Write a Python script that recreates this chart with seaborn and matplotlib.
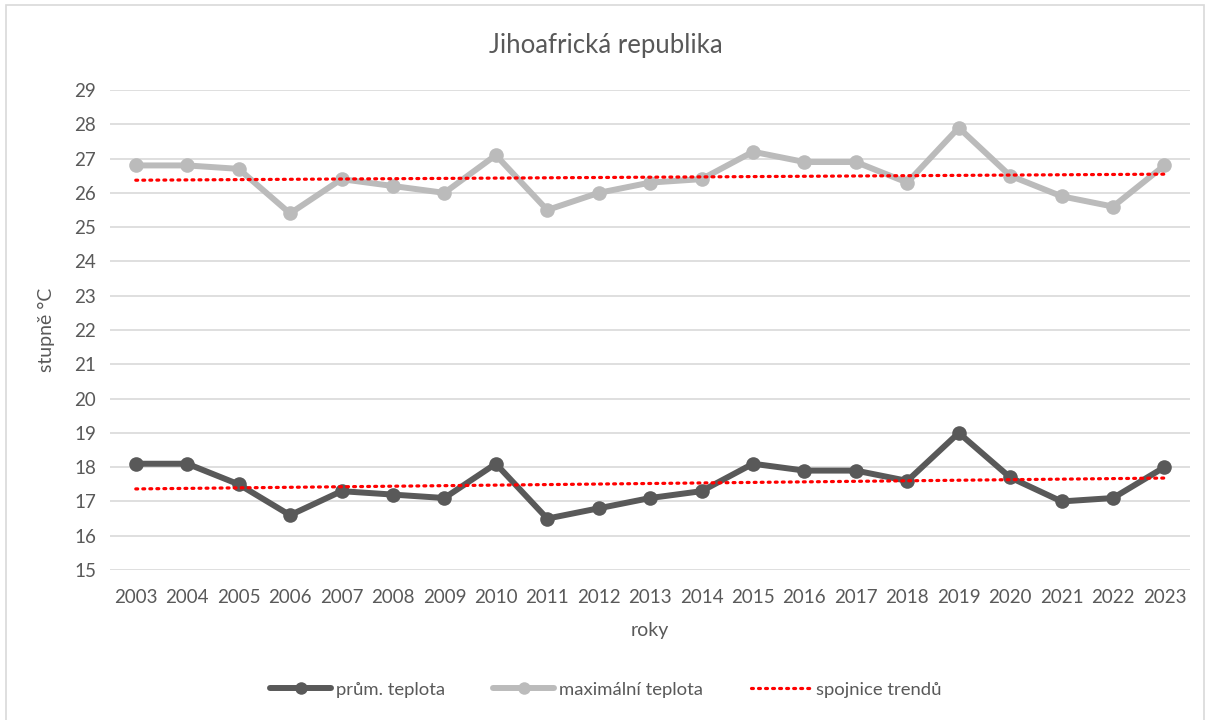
import numpy as np
import pandas as pd
import matplotlib
matplotlib.use("Agg")
import matplotlib.pyplot as plt
import seaborn as sns
from matplotlib.lines import Line2D
from matplotlib.patches import Rectangle

years = [str(y) for y in range(2003, 2024)]
avg_temp = [18.1, 18.1, 17.5, 16.6, 17.3, 17.2, 17.1, 18.1, 16.5, 16.8, 17.1,
            17.3, 18.1, 17.9, 17.9, 17.6, 19.0, 17.7, 17.0, 17.1, 18.0]
max_temp = [26.8, 26.8, 26.7, 25.4, 26.4, 26.2, 26.0, 27.1, 25.5, 26.0, 26.3,
            26.4, 27.2, 26.9, 26.9, 26.3, 27.9, 26.5, 25.9, 25.6, 26.8]
series_names = ["prům. teplota", "maximální teplota", "spojnice trendů"]
title = "Jihoafrická republika"
xlabel = "roky"
ylabel = "stupně °C"
yticks = list(range(15, 30))

sns.set_theme(style="white")
plt.rcParams['font.family'] = ['Lato', 'DejaVu Sans']

fig = plt.figure(figsize=(12.12, 7.2), dpi=100)
ax = fig.add_axes([0.0908, 0.2083, 0.8912, 0.6667])

df = pd.DataFrame({
    "year": years * 2,
    "value": avg_temp + max_temp,
    "series": [series_names[0]] * len(years) + [series_names[1]] * len(years),
})
df["x"] = list(range(len(years))) * 2

palette = {series_names[0]: "#595959", series_names[1]: "#BBBBBB"}
sns.lineplot(data=df, x="x", y="value", hue="series", palette=palette,
             marker="o", markersize=10.5, linewidth=4.3, markeredgewidth=0,
             ax=ax, legend=False, zorder=3)

# trend lines (linear regression)
xs = np.arange(len(years))
for vals in (avg_temp, max_temp):
    k, q = np.polyfit(xs, vals, 1)
    sns.lineplot(x=xs, y=k * xs + q, ax=ax, color="#FF0000", linewidth=2.3,
                 linestyle=(0, (0.6, 1.6)), dash_capstyle="round", zorder=4)

ax.set_xlim(-0.5, len(years) - 0.5)
ax.set_ylim(15, 29)
ax.set_yticks(yticks)
ax.set_xticks(xs)
ax.set_xticklabels(years)
ax.grid(axis="y", color="#D9D9D9", linewidth=1.2)
ax.set_axisbelow(True)
for s in ax.spines.values():
    s.set_visible(False)
ax.tick_params(axis="both", length=0, labelsize=13.5, labelcolor="#595959")
ax.tick_params(axis="x", pad=14)
ax.tick_params(axis="y", pad=10)

ax.set_xlabel(xlabel, fontsize=14, color="#595959", labelpad=11)
ax.set_ylabel(ylabel, fontsize=14, color="#595959", labelpad=14)
fig.text(0.5, 0.937, title, ha="center", va="center", fontsize=18.5,
         color="#595959", fontweight="normal")

handles = [
    Line2D([], [], color="#595959", linewidth=4.3, marker="o", markersize=9, markeredgewidth=0),
    Line2D([], [], color="#BBBBBB", linewidth=4.3, marker="o", markersize=9, markeredgewidth=0),
    Line2D([], [], color="#FF0000", linewidth=2.3, linestyle=(0, (0.6, 1.6)), dash_capstyle="round"),
]
fig.legend(handles, series_names, loc="center", bbox_to_anchor=(0.5, 0.042),
           ncol=3, frameon=False, fontsize=13.3, labelcolor="#595959",
           handlelength=3.3, columnspacing=2.6, handletextpad=0.25)

fig.patches.append(Rectangle((6 / 1212, -0.01), 1198 / 1212, 1 - 5 / 720 + 0.01,
                             transform=fig.transFigure, fill=False,
                             edgecolor="#D9D9D9", linewidth=1.2))

fig.savefig("out.png", dpi=100)
